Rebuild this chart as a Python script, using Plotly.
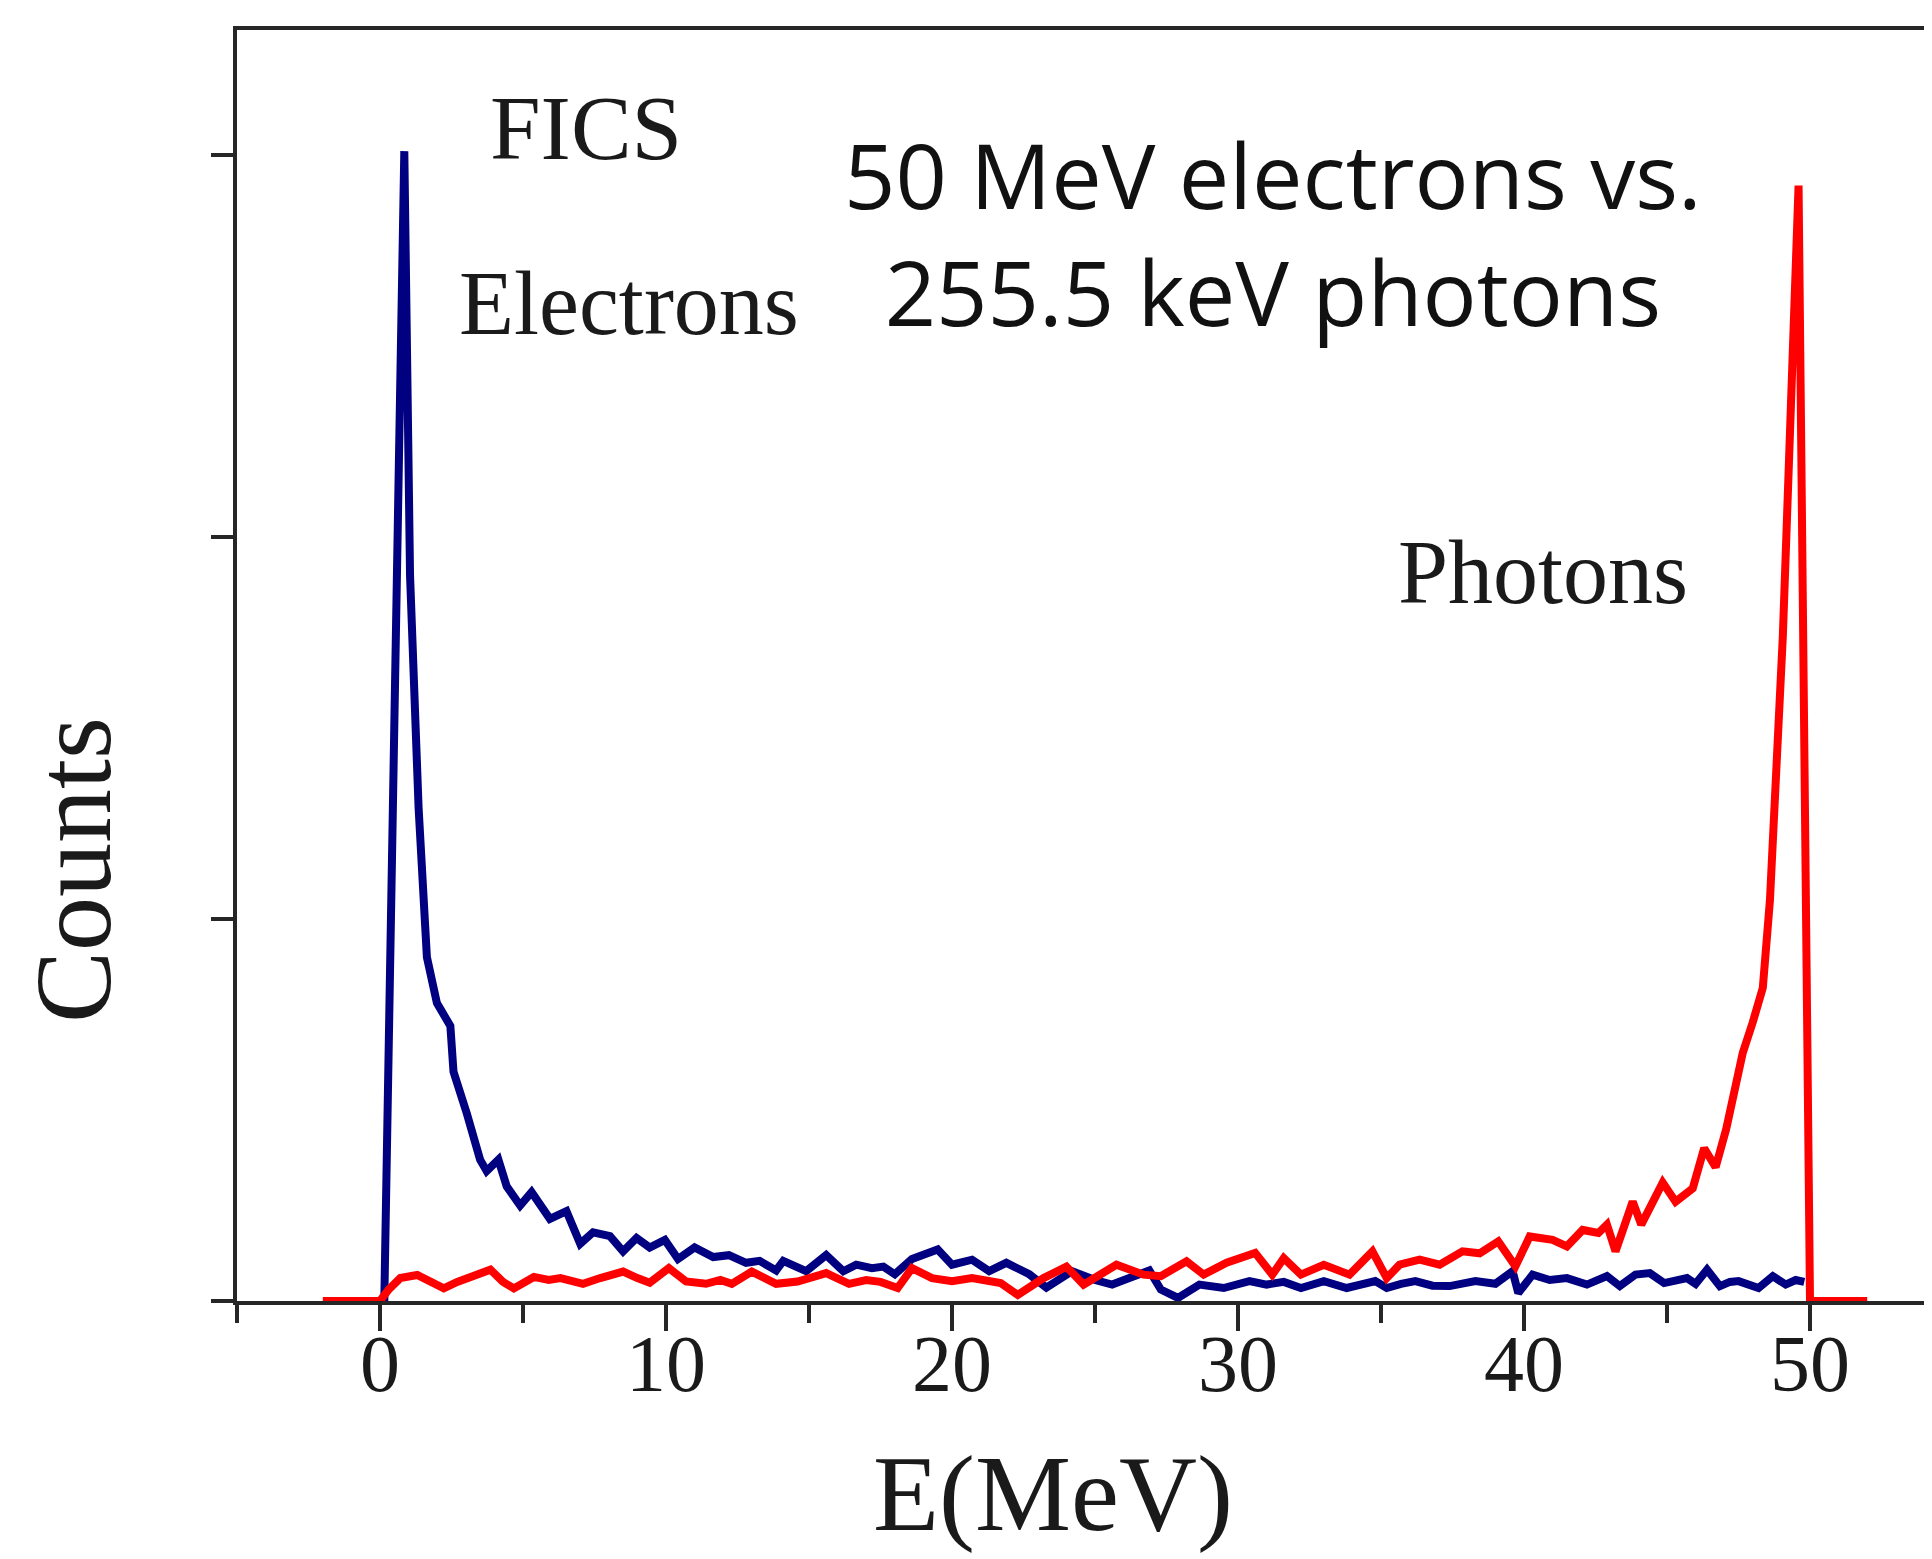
import plotly.graph_objects as go

# ---- data ----
electron_E = [0.15, 0.85, 1.05, 1.35, 1.64, 1.99, 2.46, 2.57, 3.04, 3.5, 3.73, 4.14, 4.43, 4.9,
              5.3, 5.94, 6.52, 7.0, 7.45, 8.04, 8.5, 8.97, 9.43, 9.96, 10.42, 11.0, 11.65, 12.2,
              12.8, 13.27, 13.85, 14.1, 14.9, 15.6, 16.2, 16.65, 17.2, 17.6, 18.0, 18.6, 19.5,
              20.0, 20.7, 21.3, 21.9, 22.7, 23.3, 24.2, 25.0, 25.6, 26.2, 26.9, 27.3, 27.9,
              28.65, 29.5, 30.4, 31.0, 31.6, 32.2, 33.0, 33.8, 34.8, 35.2, 35.7, 36.2, 36.8,
              37.4, 38.3, 39.0, 39.6, 39.8, 40.3, 40.9, 41.5, 42.2, 42.9, 43.35, 43.9, 44.4,
              44.9, 45.3, 45.7, 46.0, 46.4, 46.85, 47.2, 47.5, 48.2, 48.7, 49.15, 49.5, 49.8]
electron_counts = [0.0, 3.01, 1.90, 1.29, 0.90, 0.78, 0.72, 0.60, 0.49, 0.37, 0.34, 0.37, 0.30, 0.25,
                   0.285, 0.215, 0.235, 0.15, 0.18, 0.17, 0.13, 0.165, 0.14, 0.16, 0.11, 0.14, 0.115, 0.12,
                   0.10, 0.105, 0.08, 0.105, 0.078, 0.12, 0.078, 0.095, 0.086, 0.09, 0.07, 0.11, 0.135,
                   0.095, 0.108, 0.078, 0.10, 0.07, 0.035, 0.078, 0.055, 0.043, 0.06, 0.08, 0.03, 0.008,
                   0.043, 0.034, 0.052, 0.043, 0.05, 0.034, 0.052, 0.034, 0.052, 0.034, 0.045, 0.052, 0.04,
                   0.039, 0.052, 0.045, 0.078, 0.021, 0.069, 0.055, 0.06, 0.043, 0.065, 0.039, 0.069, 0.073,
                   0.047, 0.055, 0.06, 0.045, 0.082, 0.039, 0.05, 0.052, 0.034, 0.065, 0.043, 0.055, 0.05]

photon_E = [-2.0, 0.0, 0.3, 0.71, 1.3, 1.8, 2.23, 2.7, 3.04, 3.86, 4.3, 4.68, 5.38, 5.9, 6.31, 7.1,
            7.7, 8.5, 9.0, 9.43, 10.1, 10.7, 11.4, 11.9, 12.3, 13.0, 13.85, 14.6, 15.6, 16.4, 17.0,
            17.5, 18.1, 18.6, 19.3, 20.0, 20.7, 21.7, 22.3, 23.2, 24.0, 24.6, 25.2, 25.75, 26.7,
            27.3, 28.2, 28.8, 29.6, 30.6, 31.2, 31.6, 32.2, 33.0, 33.9, 34.7, 35.2, 35.65, 36.35,
            37.05, 37.85, 38.45, 39.1, 39.7, 40.2, 41.0, 41.5, 42.05, 42.6, 42.9, 43.2, 43.8, 44.1,
            44.85, 45.3, 45.9, 46.3, 46.7, 47.07, 47.3, 47.65, 48.0, 48.35, 48.6, 48.8, 49.05,
            49.28, 49.45, 49.6, 50.0, 52.0]
photon_counts = [0.0, 0.0, 0.03, 0.06, 0.068, 0.05, 0.033, 0.05, 0.06, 0.082, 0.05, 0.033, 0.063, 0.055,
                 0.06, 0.045, 0.06, 0.077, 0.06, 0.048, 0.086, 0.051, 0.045, 0.055, 0.045, 0.077, 0.045,
                 0.051, 0.073, 0.045, 0.055, 0.05, 0.034, 0.086, 0.06, 0.052, 0.06, 0.047, 0.016, 0.06,
                 0.09, 0.043, 0.07, 0.095, 0.069, 0.065, 0.104, 0.069, 0.10, 0.126, 0.069, 0.112, 0.069,
                 0.095, 0.069, 0.13, 0.06, 0.095, 0.108, 0.095, 0.13, 0.125, 0.156, 0.091, 0.169, 0.16,
                 0.143, 0.186, 0.178, 0.20, 0.13, 0.26, 0.20, 0.31, 0.26, 0.295, 0.40, 0.35, 0.45, 0.53,
                 0.65, 0.73, 0.82, 1.05, 1.35, 1.74, 2.23, 2.62, 2.92, 0.0, 0.0]

x_ticks = [0, 10, 20, 30, 40, 50]
y_ticks = [0, 1, 2, 3]

# ---- layout geometry (pixels) ----
W, H = 1932, 1559
L, R, T, B = 229, 0, 22, 266
PW, PH = W - L - R, H - T - B
X_PER_UNIT = 28.6
Y_PER_UNIT = 382.0
x_range = [-5, -5 + PW / X_PER_UNIT]
y_range = [0, PH / Y_PER_UNIT]


def px(xp, yp):
    return (xp - L) / PW, (H - B - yp) / PH


AX = "#262626"
SERIF = "Liberation Serif, Times New Roman, serif"

fig = go.Figure()
fig.add_trace(go.Scatter(x=electron_E, y=electron_counts, mode="lines",
                         line=dict(color="#000080", width=8), name="Electrons",
                         showlegend=False))
fig.add_trace(go.Scatter(x=photon_E, y=photon_counts, mode="lines",
                         line=dict(color="#FF0000", width=8), name="Photons",
                         showlegend=False))

annos = []


def add_text(text, xp, yp, size, family, angle=0, color="#1a1a1a"):
    ax_, ay_ = px(xp, yp)
    annos.append(dict(text=text, x=ax_, y=ay_, xref="paper", yref="paper",
                      xanchor="center", yanchor="middle", showarrow=False,
                      textangle=angle, font=dict(family=family, size=size, color=color)))


add_text("FICS", 578, 120, 91, SERIF)
add_text("Electrons", 621, 295, 90, SERIF)
add_text("Photons", 1535, 564, 90, SERIF)
add_text("50 MeV electrons vs.<br>255.5 keV photons", 1265, 225, 90,
         "Open Sans, Calibri, sans-serif", color="#111111")
add_text("E(MeV)", 1045, 1486, 108, SERIF)
add_text("Counts", 65, 862, 108, SERIF, angle=-90)

fig.update_layout(
    width=W, height=H,
    margin=dict(l=L, r=R, t=T, b=B, pad=0),
    paper_bgcolor="white", plot_bgcolor="white",
    annotations=annos,
    xaxis=dict(range=x_range, showgrid=False, zeroline=False,
               showline=True, linecolor=AX, linewidth=4, mirror=True,
               tickmode="array", tickvals=x_ticks, ticktext=[str(v) for v in x_ticks],
               ticks="outside", ticklen=26, tickwidth=4, tickcolor=AX,
               ticklabelstandoff=-36,
               tickfont=dict(family=SERIF, size=80, color="#1a1a1a"),
               minor=dict(dtick=5, tick0=0, ticks="outside", ticklen=18,
                          tickwidth=4, tickcolor=AX, showgrid=False)),
    yaxis=dict(range=y_range, showgrid=False, zeroline=False,
               showline=True, linecolor=AX, linewidth=4, mirror=False,
               tickmode="array", tickvals=y_ticks, showticklabels=False,
               ticks="outside", ticklen=22, tickwidth=4, tickcolor=AX),
)

fig.write_html("out.html")
